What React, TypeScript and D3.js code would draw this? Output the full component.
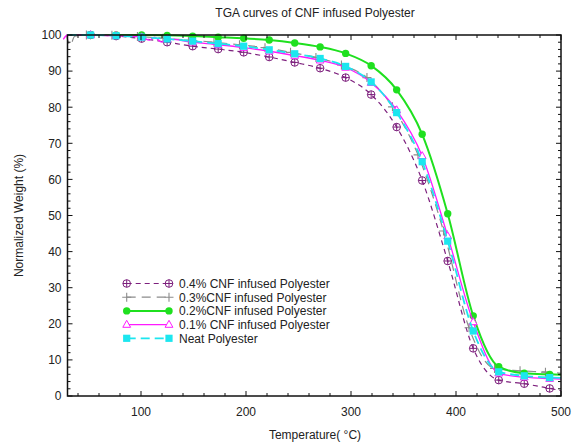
import React, { useEffect, useRef } from 'react';
import * as d3 from 'd3';

// marker temperatures (°C)
const markTemps = [52, 76.3, 100.6, 124.9, 149.2, 173.5, 197.8, 222.1, 246.4, 270.6, 294.9, 319.2, 343.5, 367.8, 392.1, 416.4, 440.7, 465, 489.2];
const grayTemps = [48, 72.3, 96.6, 120.9, 145.2, 169.5, 193.8, 218.1, 242.4, 266.6, 290.9, 315.2, 339.5, 363.8, 388.1, 412.4, 436.7, 461, 485.2];

// normalized weight (%) at marker temps
const cnf04 = [100, 99.7, 99.0, 98.0, 96.9, 96.1, 95.2, 93.9, 92.4, 90.8, 88.2, 83.5, 74.5, 59.7, 37.4, 13.2, 4.4, 3.4, 2.1];
const cnf03 = [100, 99.9, 99.6, 99.1, 98.6, 98.0, 97.3, 96.5, 95.2, 93.8, 91.7, 88.2, 80.1, 66.8, 45.7, 18.9, 7.6, 7.0, 6.6];
const cnf02 = [100, 100, 100, 99.9, 99.7, 99.4, 99.1, 98.6, 97.8, 96.7, 94.9, 91.5, 84.8, 72.5, 50.5, 22.2, 8.1, 6.3, 6.0];
const cnf01 = [100, 99.8, 99.4, 98.9, 98.0, 97.3, 96.5, 95.5, 94.3, 93.0, 91.0, 86.8, 79.2, 66.5, 44.3, 20.5, 6.3, 5.2, 4.8];
const neat = [100, 99.8, 99.4, 98.9, 98.3, 97.6, 96.9, 95.9, 94.8, 93.5, 91.3, 87.0, 78.5, 64.9, 42.9, 18.0, 6.7, 5.6, 5.1];

// extra line-only readings (start / end of the runs)
const cnf04Extra = [[30, 100], [500, 1.5]];
const cnf03Extra = [[29, 100], [32.5, 97.2], [37, 99.7], [500, 6.3]];
const cnf02Extra = [[30, 100], [500, 5.9]];
const cnf01Extra = [[26, 98.8], [30, 100], [108, 98.6], [113, 99.4], [119.6, 98.0], [500, 4.7]];
const neatExtra = [[30, 100], [500, 5.0]];

const seriesNames = ['0.4% CNF infused Polyester', '0.3%CNF infused Polyester', '0.2%CNF infused Polyester', '0.1% CNF infused Polyester', 'Neat Polyester'];

const xTicks = [100, 200, 300, 400, 500];
const yTicks = [0, 10, 20, 30, 40, 50, 60, 70, 80, 90, 100];

function App() {
  const ref = useRef(null);

  useEffect(() => {
    document.body.style.margin = '0';
    drawChart();
  });

  function drawChart() {
    const width = 576, height = 444;
    const left = 67.5, right = 561, top = 35, bottom = 396;
    const font = '"Liberation Sans", Arial, sans-serif';

    d3.select(ref.current).select('svg').remove();

    const svg = d3.select(ref.current)
      .append('svg')
      .attr('width', width)
      .attr('height', height)
      .style('display', 'block')
      .style('background', 'white')
      .style('font-family', font);

    const xScale = d3.scaleLinear().domain([30, 500]).range([left, right]);
    const yScale = d3.scaleLinear().domain([0, 100]).range([bottom, top]);

    const series = [
      { name: seriesNames[0], temps: markTemps, vals: cnf04, extra: cnf04Extra, color: '#7d1f7d', width: 1.2, dash: '5,4', marker: 'circlePlus' },
      { name: seriesNames[1], temps: grayTemps, vals: cnf03, extra: cnf03Extra, color: '#8c8c8c', width: 1.2, dash: '9,6', marker: 'plus' },
      { name: seriesNames[2], temps: markTemps, vals: cnf02, extra: cnf02Extra, color: '#1fe01f', width: 2, dash: null, marker: 'dot' },
      { name: seriesNames[3], temps: markTemps, vals: cnf01, extra: cnf01Extra, color: '#ff1aff', width: 1.3, dash: null, marker: 'triangle' },
      { name: seriesNames[4], temps: markTemps, vals: neat, extra: neatExtra, color: '#1ce6ef', width: 1.8, dash: '9,5', marker: 'square' },
    ];

    function drawMarker(g, type, color, x, y) {
      if (type === 'circlePlus') {
        g.append('circle').attr('cx', x).attr('cy', y).attr('r', 3.8)
          .attr('fill', 'none').attr('stroke', color).attr('stroke-width', 1);
        g.append('path').attr('d', `M${x - 3.8},${y}H${x + 3.8}M${x},${y - 3.8}V${y + 3.8}`)
          .attr('stroke', color).attr('stroke-width', 1);
      } else if (type === 'plus') {
        g.append('path').attr('d', `M${x - 4.5},${y}H${x + 4.5}M${x},${y - 4.5}V${y + 4.5}`)
          .attr('stroke', color).attr('stroke-width', 1.1);
      } else if (type === 'dot') {
        g.append('circle').attr('cx', x).attr('cy', y).attr('r', 3.7).attr('fill', color);
      } else if (type === 'triangle') {
        g.append('path').attr('d', `M${x},${y - 4.3}L${x + 3.9},${y + 2.7}L${x - 3.9},${y + 2.7}Z`)
          .attr('fill', 'white').attr('stroke', color).attr('stroke-width', 1);
      } else if (type === 'square') {
        g.append('rect').attr('x', x - 3.6).attr('y', y - 3.6).attr('width', 7.2).attr('height', 7.2).attr('fill', color);
      }
    }

    const line = d3.line()
      .x(d => xScale(d[0]))
      .y(d => yScale(d[1]))
      .curve(d3.curveMonotoneX);

    series.forEach(s => {
      const pts = s.temps.map((t, i) => [t, s.vals[i]]).concat(s.extra).sort((a, b) => a[0] - b[0]);
      const g = svg.append('g');
      g.append('path')
        .datum(pts)
        .attr('d', line)
        .attr('fill', 'none')
        .attr('stroke', s.color)
        .attr('stroke-width', s.width)
        .attr('stroke-dasharray', s.dash);
      s.temps.forEach((t, i) => drawMarker(g, s.marker, s.color, xScale(t), yScale(s.vals[i])));
    });

    // frame and inward ticks
    const axisColor = '#111';
    svg.append('rect')
      .attr('x', left).attr('y', top)
      .attr('width', right - left).attr('height', bottom - top)
      .attr('fill', 'none').attr('stroke', axisColor).attr('stroke-width', 1.5);

    const ticks = svg.append('g').attr('stroke', axisColor).attr('stroke-width', 1);
    d3.range(40, 501, 20).forEach(t => {
      const len = t % 100 === 0 ? 5 : 3;
      const x = xScale(t);
      ticks.append('line').attr('x1', x).attr('x2', x).attr('y1', bottom).attr('y2', bottom - len);
      ticks.append('line').attr('x1', x).attr('x2', x).attr('y1', top).attr('y2', top + len);
    });
    d3.range(0, 101, 2).forEach(v => {
      const len = v % 10 === 0 ? 5 : 3;
      const y = yScale(v);
      ticks.append('line').attr('x1', left).attr('x2', left + len).attr('y1', y).attr('y2', y);
      ticks.append('line').attr('x1', right).attr('x2', right - len).attr('y1', y).attr('y2', y);
    });

    svg.append('g').selectAll('text')
      .data(xTicks).enter().append('text')
      .attr('x', d => xScale(d))
      .attr('y', 416)
      .style('text-anchor', 'middle')
      .style('font-size', '12px')
      .attr('fill', '#222')
      .text(d => d);

    svg.append('g').selectAll('text')
      .data(yTicks).enter().append('text')
      .attr('x', 61.5)
      .attr('y', d => yScale(d) + 4.3)
      .style('text-anchor', 'end')
      .style('font-size', '12px')
      .attr('fill', '#222')
      .text(d => d);

    // Title and axis labels
    svg.append('text')
      .attr('x', 315)
      .attr('y', 17)
      .style('text-anchor', 'middle')
      .style('font-size', '12px')
      .attr('fill', '#222')
      .text('TGA curves of CNF infused Polyester');

    svg.append('text')
      .attr('x', 315)
      .attr('y', 439)
      .style('text-anchor', 'middle')
      .style('font-size', '12px')
      .attr('fill', '#222')
      .text('Temperature( °C)');

    svg.append('text')
      .attr('transform', `translate(23, ${(top + bottom) / 2}) rotate(-90)`)
      .style('text-anchor', 'middle')
      .style('font-size', '12px')
      .attr('fill', '#222')
      .text('Normalized Weight (%)');

    // Legend
    const legend = svg.append('g');
    series.forEach((s, i) => {
      const y = 283.5 + i * 13.7;
      legend.append('line')
        .attr('x1', 126.7).attr('x2', 169)
        .attr('y1', y).attr('y2', y)
        .attr('stroke', s.color)
        .attr('stroke-width', s.width)
        .attr('stroke-dasharray', s.dash);
      drawMarker(legend, s.marker, s.color, 126.7, y);
      drawMarker(legend, s.marker, s.color, 169, y);
      legend.append('text')
        .attr('x', 179)
        .attr('y', y + 4.3)
        .style('font-size', '12px')
        .attr('fill', '#222')
        .text(s.name);
    });
  }

  return <div ref={ref} />;
}

export default App;
